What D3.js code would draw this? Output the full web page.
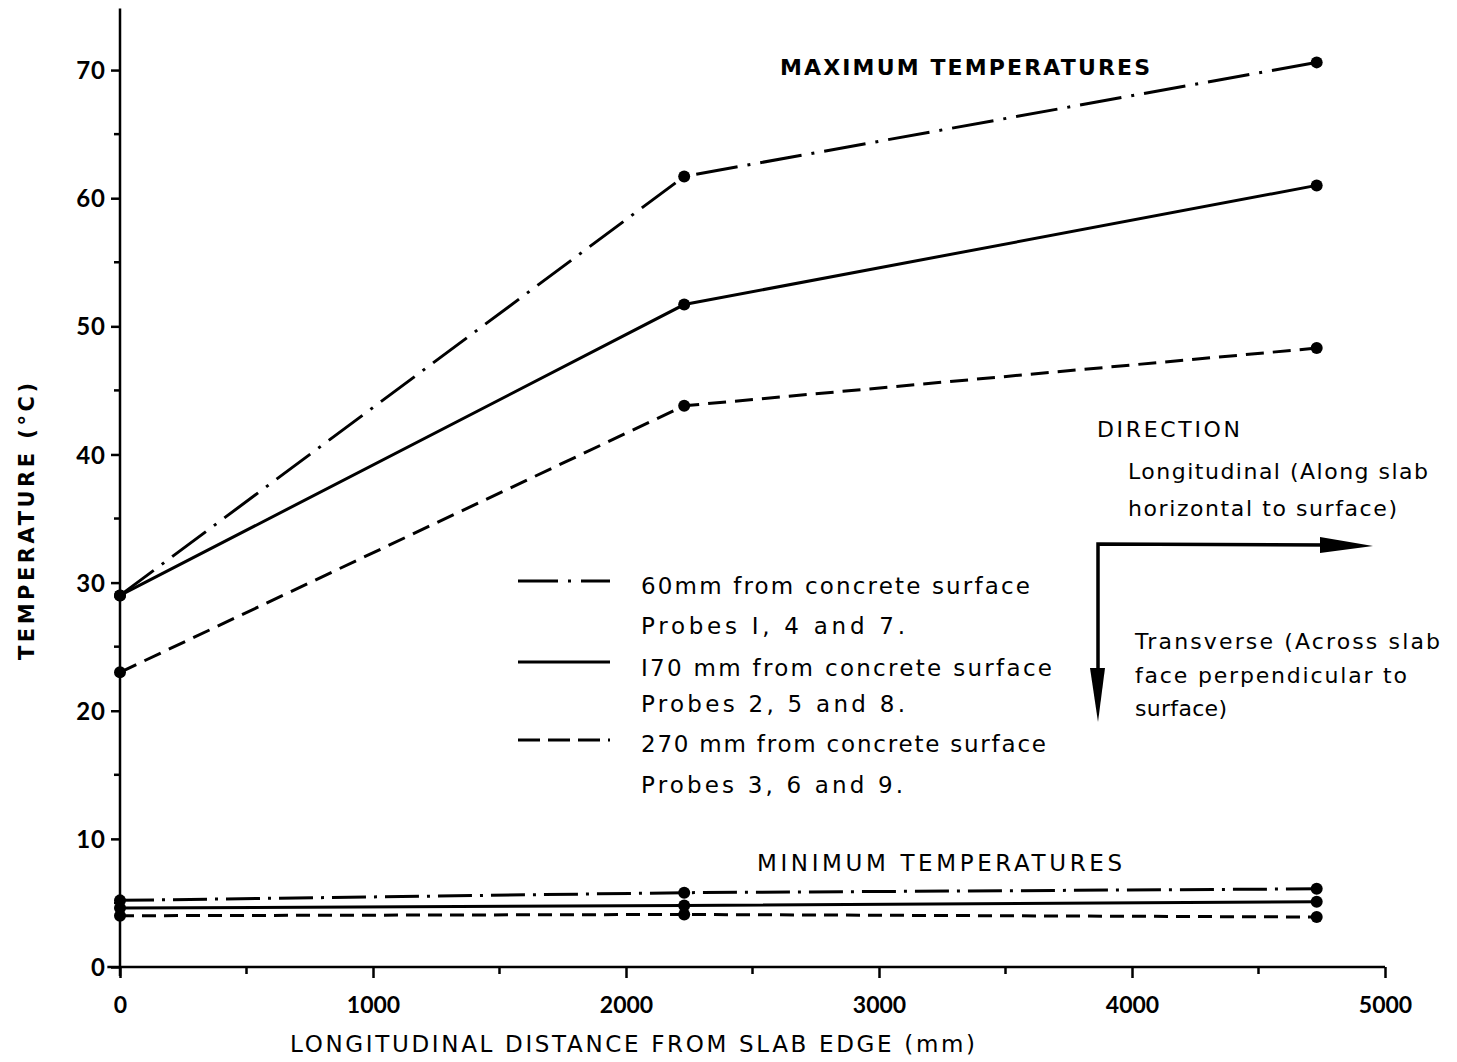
<!DOCTYPE html>
<html lang="en">
<head>
  <meta charset="utf-8"/>
  <title>Slab temperatures</title>
  <script src="https://cdn.jsdelivr.net/npm/d3@7"></script>
  <style>
    body { margin: 0; background: #fff; }
    svg text { font-family: "DejaVu Sans", sans-serif; fill: #000; }
  </style>
</head>
<body>
<svg width="1457" height="1062"></svg>
<script>
  // distances along the slab (mm)
  var distances = [0, 2230, 4730];
  // maximum temperatures (degC)
  var max60 = [29.0, 61.7, 70.6];
  var max170 = [29.0, 51.7, 61.0];
  var max270 = [23.0, 43.8, 48.3];
  // minimum temperatures (degC)
  var min60 = [5.2, 5.8, 6.1];
  var min170 = [4.6, 4.8, 5.1];
  var min270 = [4.0, 4.1, 3.9];

  var xTicks = [0, 1000, 2000, 3000, 4000, 5000];
  var yTicks = [0, 10, 20, 30, 40, 50, 60, 70];

  var legendRows = [
    { dash: "dashdot", lines: ["60mm  from concrete surface", "Probes  I, 4  and  7."] },
    { dash: "solid", lines: ["I70 mm  from concrete surface", "Probes  2, 5  and  8."] },
    { dash: "dashed", lines: ["270 mm  from concrete surface", "Probes  3, 6  and  9."] }
  ];

  var dashes = { dashdot: "42,10,3,10", solid: null, dashed: "18,9" };
  var minDashes = { dashdot: "34,8,3,8", solid: null, dashed: "14,8" };
  var legendDashes = { dashdot: "40,10,3,10,40", solid: null, dashed: "22,8" };

  var svg = d3.select("svg");
  var x = d3.scaleLinear().domain([0, 5000]).range([120, 1385]);
  var y = d3.scaleLinear().domain([0, 75]).range([967, 6]);

  // text helper: stretch to the width measured on the original
  function label(g, tx, ty, str, size, width, weight) {
    return g.append("text").attr("x", tx).attr("y", ty)
      .style("font-size", size + "px").style("font-weight", weight || "normal")
      .attr("textLength", width).attr("lengthAdjust", "spacing").text(str);
  }

  // y axis
  var yAxis = svg.append("g").attr("transform", "translate(" + x(0) + ",0)")
    .call(d3.axisLeft(y).tickValues(yTicks).tickSize(9).tickPadding(5).tickSizeOuter(0));
  yAxis.select(".domain").remove();
  yAxis.selectAll(".tick line").attr("stroke-width", 2.5);
  yAxis.selectAll(".tick text").style("font-size", "24px").style("font-family", "Lato, sans-serif")
    .style("font-weight", "700").attr("letter-spacing", 1).attr("dy", "0.36em");
  yAxis.selectAll(".minor").data(d3.range(5, 70, 10)).enter().append("line")
    .attr("x1", -6).attr("x2", 0).attr("y1", function(d) { return y(d); }).attr("y2", function(d) { return y(d); })
    .attr("stroke", "#000").attr("stroke-width", 2.5);
  svg.append("line").attr("x1", x(0)).attr("x2", x(0)).attr("y1", y(-0.7)).attr("y2", y(74.8))
    .attr("stroke", "#000").attr("stroke-width", 2.5);

  // x axis
  var xAxis = svg.append("g").attr("transform", "translate(0," + y(0) + ")")
    .call(d3.axisBottom(x).tickValues(xTicks).tickSize(11).tickPadding(19).tickFormat(d3.format("d")).tickSizeOuter(0));
  xAxis.select(".domain").remove();
  xAxis.selectAll(".tick line").attr("stroke-width", 2.5);
  xAxis.selectAll(".tick text").style("font-size", "23px").style("font-family", "Lato, sans-serif")
    .style("font-weight", "700");
  xAxis.selectAll(".minor").data(d3.range(500, 5000, 1000)).enter().append("line")
    .attr("x1", function(d) { return x(d); }).attr("x2", function(d) { return x(d); })
    .attr("y1", 0).attr("y2", 7).attr("stroke", "#000").attr("stroke-width", 2.5);
  svg.append("line").attr("x1", x(-50)).attr("x2", x(5000)).attr("y1", y(0)).attr("y2", y(0))
    .attr("stroke", "#000").attr("stroke-width", 2.5);

  // axis titles
  svg.append("text").attr("transform", "translate(34,660) rotate(-90)")
    .style("font-size", "21px").style("font-weight", "700")
    .attr("textLength", 277).attr("lengthAdjust", "spacing").text("TEMPERATURE (°C)");
  label(svg, 290, 1052, "LONGITUDINAL  DISTANCE  FROM  SLAB  EDGE (mm)", 23, 685);

  // series
  var series = [
    { vals: max60, dash: dashes.dashdot },
    { vals: max170, dash: dashes.solid },
    { vals: max270, dash: dashes.dashed },
    { vals: min60, dash: minDashes.dashdot },
    { vals: min170, dash: minDashes.solid },
    { vals: min270, dash: minDashes.dashed }
  ];
  var line = d3.line().x(function(d) { return x(d[0]); }).y(function(d) { return y(d[1]); });

  series.forEach(function(s) {
    var pts = distances.map(function(d, i) { return [d, s.vals[i]]; });
    svg.append("path").datum(pts).attr("d", line)
      .attr("fill", "none").attr("stroke", "#000").attr("stroke-width", 3)
      .attr("stroke-dasharray", s.dash);
    svg.selectAll(null).data(pts).enter().append("circle")
      .attr("cx", function(d) { return x(d[0]); }).attr("cy", function(d) { return y(d[1]); })
      .attr("r", 6).attr("fill", "#000");
  });

  // section titles
  label(svg, 780, 75, "MAXIMUM  TEMPERATURES", 22, 370, "700");
  label(svg, 757, 871, "MINIMUM  TEMPERATURES", 23, 365);

  // legend
  var legend = svg.append("g");
  var lineY = [581, 662, 740];
  var textY = [[594, 634], [676, 712], [752, 793]];
  var textW = [[389, 264], [411, 264], [405, 262]];
  legendRows.forEach(function(r, i) {
    legend.append("line").attr("x1", 518).attr("x2", 610).attr("y1", lineY[i]).attr("y2", lineY[i])
      .attr("stroke", "#000").attr("stroke-width", 3).attr("stroke-dasharray", legendDashes[r.dash]);
    label(legend, 641, textY[i][0], r.lines[0], 23, textW[i][0]);
    label(legend, 641, textY[i][1], r.lines[1], 23, textW[i][1]);
  });

  // direction key
  var key = svg.append("g");
  label(key, 1097, 437, "DIRECTION", 22, 143);
  label(key, 1128, 479, "Longitudinal (Along  slab", 22, 300);
  label(key, 1128, 516, "horizontal  to surface)", 22, 269);
  label(key, 1135, 649, "Transverse  (Across slab", 22, 305);
  label(key, 1135, 683, "face  perpendicular  to", 22, 272);
  label(key, 1135, 716, "surface)", 22, 92);
  key.append("path").attr("d", "M1098,700 L1098,544 L1330,545").attr("fill", "none")
    .attr("stroke", "#000").attr("stroke-width", 3.5);
  key.append("path").attr("d", "M1320,537 L1373,546 L1320,553 Z").attr("fill", "#000");
  key.append("path").attr("d", "M1090,668 L1098,722 L1105,668 Z").attr("fill", "#000");
</script>
</body>
</html>
